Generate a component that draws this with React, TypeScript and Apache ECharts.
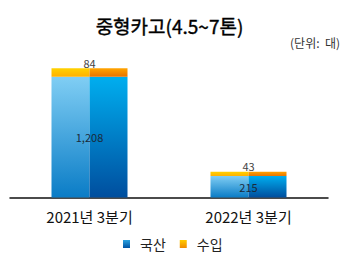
import React, { useEffect, useRef } from "react";
import * as echarts from "echarts";

const categories = ["2021년 3분기", "2022년 3분기"];
const domestic = [1208, 215];
const imported = [84, 43];
const titleText = "중형카고(4.5~7톤)";
const unitText = "(단위:  대)";

const vgrad = (a: string, b: string) => ({
  type: "linear",
  x: 0,
  y: 0,
  x2: 0,
  y2: 1,
  colorStops: [
    { offset: 0, color: a },
    { offset: 1, color: b },
  ],
});

export default function App() {
  const ref = useRef<HTMLDivElement>(null);
  useEffect(() => {
    if (!ref.current) return;
    const chart = echarts.init(ref.current, undefined, { renderer: "svg" });
    const font = "'Noto Sans CJK KR', 'Noto Sans', sans-serif";
    const half = 38;
    chart.setOption({
      animation: false,
      backgroundColor: "#ffffff",
      textStyle: { fontFamily: font },
      grid: { left: 10, right: 22, top: 47.5, bottom: 69.5 },
      graphic: [
        {
          type: "text",
          x: 169.5,
          y: 25,
          style: {
            text: titleText,
            fontFamily: font,
            fontSize: 19,
            fontWeight: "normal",
            fill: "#000",
            stroke: "#000",
            lineWidth: 0.4,
            textAlign: "center",
            textVerticalAlign: "middle",
          },
        },
        {
          type: "text",
          x: 340,
          y: 42,
          style: {
            text: unitText,
            fontFamily: font,
            fontSize: 12,
            fill: "#333",
            textAlign: "right",
            textVerticalAlign: "middle",
          },
        },
      ],
      legend: {
        left: 118,
        top: 232,
        itemWidth: 7,
        itemHeight: 8,
        itemGap: 14,
        icon: "rect",
        textStyle: { fontFamily: font, fontSize: 14, color: "#222", padding: [0, 0, 0, 5] },
        data: [
          { name: "국산", itemStyle: { color: vgrad("#2AA2E0", "#0053A3") } },
          { name: "수입", itemStyle: { color: vgrad("#FFCC00", "#F08A00") } },
        ],
      },
      xAxis: {
        type: "category",
        data: categories,
        axisLine: { lineStyle: { color: "#111", width: 1.5 } },
        axisTick: { inside: true, length: 3, lineStyle: { color: "#111", width: 1.5 } },
        axisLabel: { fontFamily: font, fontSize: 15, color: "#111", margin: 11 },
      },
      yAxis: { type: "value", min: 0, max: 1500, show: false, splitLine: { show: false } },
      series: [
        {
          name: "국산",
          type: "bar",
          stack: "L",
          barWidth: half,
          barGap: 0,
          data: domestic,
          itemStyle: { color: vgrad("#80CEF4", "#0A7CC6") },
        },
        {
          name: "수입",
          type: "bar",
          stack: "L",
          barWidth: half,
          barGap: 0,
          data: imported,
          itemStyle: { color: vgrad("#FFD200", "#FFB000") },
        },
        {
          name: "국산",
          type: "bar",
          stack: "R",
          barWidth: half,
          barGap: 0,
          data: domestic,
          itemStyle: { color: vgrad("#00AEEF", "#004E9E") },
          label: {
            show: true,
            position: "inside",
            offset: [-half / 2, 0],
            fontFamily: font,
            fontSize: 11,
            color: "#1a2a3a",
            formatter: (p: any) => p.value.toLocaleString("en-US"),
          },
        },
        {
          name: "수입",
          type: "bar",
          stack: "R",
          barWidth: half,
          barGap: 0,
          data: imported,
          itemStyle: { color: vgrad("#FFA400", "#E97300") },
          label: {
            show: true,
            position: "top",
            distance: 0,
            offset: [-half / 2, 0],
            fontFamily: font,
            fontSize: 11,
            color: "#444",
            formatter: (p: any) => p.value.toLocaleString("en-US"),
          },
        },
      ],
    });
    return () => chart.dispose();
  }, []);
  return (
    <div
      ref={ref}
      style={{ position: "fixed", left: 0, top: 0, width: 350, height: 267 }}
    />
  );
}
